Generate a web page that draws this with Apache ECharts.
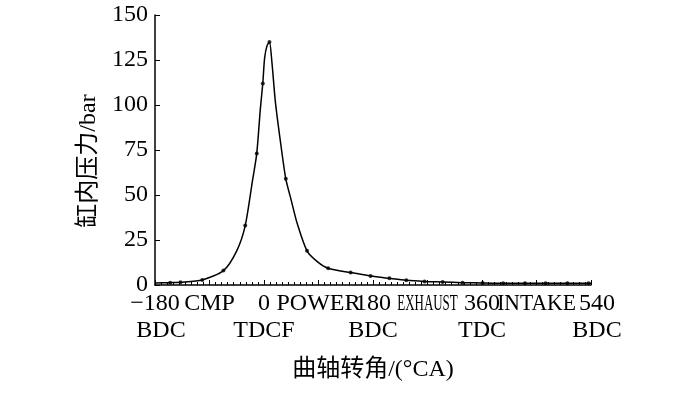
<!DOCTYPE html>
<html>
<head>
<meta charset="utf-8">
<script src="https://cdn.jsdelivr.net/npm/echarts@6/dist/echarts.min.js"></script>
<style>
  html, body { margin: 0; padding: 0; background: #fff; }
  #main { width: 700px; height: 393px; }
</style>
</head>
<body>
<div id="main"></div>
<script>
// crank angle / cylinder pressure
const pressAngle = [-180, -155, -138, -102, -67, -45, -31, -19, -12, -6, -2, 1, 5, 9, 13, 19, 29, 36, 45, 55, 71, 88, 106, 143, 176, 207, 235, 265, 295, 328, 361, 395, 431, 465, 501, 540];
const pressValue = [1.1, 1.3, 1.5, 2.8, 8, 19, 33, 58, 73, 98, 112, 126, 133, 135, 124, 101, 75, 59, 47, 34, 19, 13, 9.3, 6.9, 5, 3.7, 2.6, 2, 1.7, 1.3, 1.1, 1, 1, 1, 1, 1];

// measured points (dots on the curve)
const markAngle = [-155, -138, -102, -67, -31, -12, -2, 9, 36, 71, 106, 143, 176, 207, 235, 265, 295, 328, 361, 395, 431, 465, 501, 536];
const markValue = [1.3, 1.5, 2.8, 8, 33, 73, 112, 135, 59, 19, 9.3, 6.9, 5, 3.7, 2.6, 2, 1.7, 1.3, 1.1, 1, 1, 1, 1, 1];

// x tick labels
const tickAngle = [-180, -90, 0, 90, 180, 270, 360, 450, 540];
const tickLine1 = ['\u2212180', 'CMP', '0', 'POWER', '180', 'EXHAUST', '360', 'INTAKE', '540'];
const tickLine2 = ['BDC', '', 'TDCF', '', 'BDC', '', 'TDC', '', 'BDC'];

const serif = '"Liberation Serif", "Times New Roman", "Noto Sans CJK SC", serif';
// stroke names are drawn as separate texts; some are printed condensed
const strokeScale = { CMP: 1, POWER: 1, EXHAUST: 0.54, INTAKE: 0.9 };

var myChart = echarts.init(document.getElementById('main'));

let option = {
  animation: false,
  grid: { left: 155, right: 109, top: 15, bottom: 108 },
  xAxis: {
    type: 'value',
    min: -180,
    max: 540,
    interval: 90,
    name: '曲轴转角/(°CA)',
    nameLocation: 'middle',
    nameGap: 73,
    nameTextStyle: { fontFamily: serif, fontSize: 24, color: '#000' },
    axisLine: { onZero: false, lineStyle: { color: '#000', width: 1.5 } },
    axisTick: { inside: true, length: 5, lineStyle: { color: '#000' } },
    minorTick: { show: true, splitNumber: 9, length: 3, lineStyle: { color: '#000' } },
    splitLine: { show: false },
    axisLabel: {
      margin: 5,
      fontFamily: serif,
      fontSize: 24,
      lineHeight: 27,
      color: '#000',
      hideOverlap: false,
      showMinLabel: true,
      showMaxLabel: true,
      rich: {
        n: { fontFamily: serif, fontSize: 24, lineHeight: 27, color: '#000' },
        // some end words sit a little right of their ticks in the original
        e: { fontFamily: serif, fontSize: 24, lineHeight: 27, color: '#000', padding: [0, 0, 0, 12] }
      },
      formatter: function (v) {
        const i = tickAngle.indexOf(v);
        if (i < 0 || strokeScale[tickLine1[i]]) return '';
        if (i === 0) return '{n|' + tickLine1[i] + '}\n{e|' + tickLine2[i] + '}';
        if (i === tickAngle.length - 1) return '{e|' + tickLine1[i] + '}\n{e|' + tickLine2[i] + '}';
        return tickLine1[i] + '\n' + tickLine2[i];
      }
    }
  },
  yAxis: {
    type: 'value',
    min: 0,
    max: 150,
    interval: 25,
    name: '缸内压力/bar',
    nameLocation: 'middle',
    nameGap: 44,
    nameTextStyle: { fontFamily: serif, fontSize: 24, color: '#000', padding: [0, 22, 0, 0] },
    axisLine: { show: true, onZero: false, lineStyle: { color: '#000', width: 1.5 } },
    axisTick: { show: true, inside: true, length: 5, lineStyle: { color: '#000' } },
    splitLine: { show: false },
    axisLabel: { margin: 7, fontFamily: serif, fontSize: 24, color: '#000', showMinLabel: true }
  },
  series: [
    {
      type: 'line',
      data: pressAngle.map((a, i) => [a, pressValue[i]]),
      smooth: 0.25,
      showSymbol: false,
      lineStyle: { color: '#000', width: 1.5 }
    },
    {
      type: 'scatter',
      data: markAngle.map((a, i) => [a, markValue[i]]),
      symbol: 'circle',
      symbolSize: 4,
      itemStyle: { color: '#000' },
      z: 3
    }
  ]
};

myChart.setOption(option);

// stroke labels drawn at their axis positions
const axisY = myChart.convertToPixel({ yAxisIndex: 0 }, 0);
const extra = [];
tickLine1.forEach(function (t, i) {
  if (!strokeScale[t]) return;
  extra.push({
    type: 'text',
    x: myChart.convertToPixel({ xAxisIndex: 0 }, tickAngle[i]),
    y: axisY + 5,
    scaleX: strokeScale[t],
    style: {
      text: t,
      font: '24px ' + serif,
      lineHeight: 27,
      fill: '#000',
      textAlign: 'center',
      textVerticalAlign: 'top'
    }
  });
});
myChart.setOption({ graphic: extra });

window.addEventListener('resize', function () {
  myChart.resize();
});
</script>
</body>
</html>
